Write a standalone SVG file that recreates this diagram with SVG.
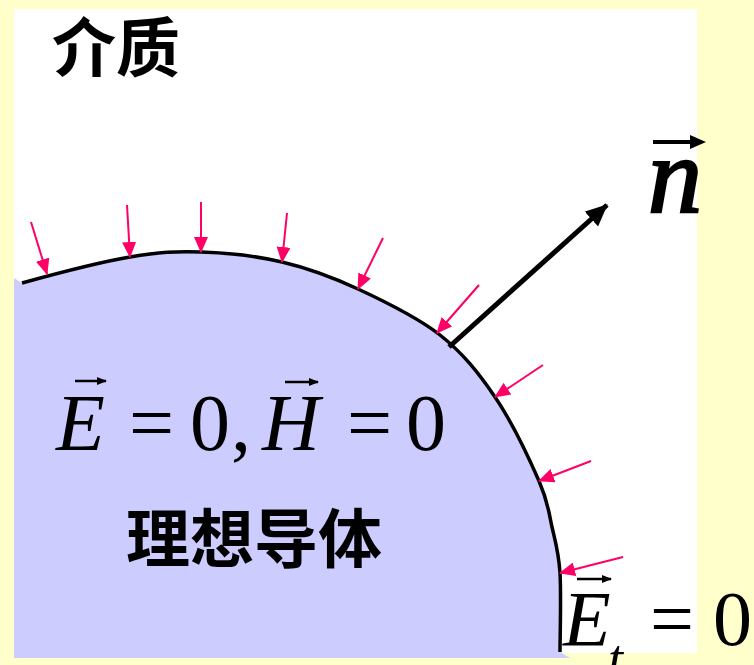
<svg xmlns="http://www.w3.org/2000/svg" width="754" height="665" viewBox="0 0 754 665">
<style>
.cjk{font-family:"Noto Sans CJK SC","Noto Sans",sans-serif;font-weight:bold;font-size:64px;fill:#000}
.m{font-family:"Liberation Serif","Times New Roman",serif;font-size:80px;fill:#000}
.i{font-style:italic}
.pk{stroke:#FF0066;stroke-width:2;fill:none;marker-end:url(#pinkhead)}
.vec{stroke:#000;stroke-width:2.5;fill:none}
</style>
<defs>
<marker id="pinkhead" viewBox="0 0 16 14" markerWidth="16" markerHeight="14" refX="15" refY="7" orient="auto" markerUnits="userSpaceOnUse">
<path d="M0,0 L16,7 L0,14 Z" fill="#FF0066"/>
</marker>
<marker id="blackhead" viewBox="0 0 22 20" markerWidth="22" markerHeight="20" refX="21" refY="10" orient="auto" markerUnits="userSpaceOnUse">
<path d="M0,0 L22,10 L0,20 Z" fill="#000"/>
</marker>
<marker id="vechead" viewBox="0 0 10 8" markerWidth="10" markerHeight="8" refX="9" refY="4" orient="auto" markerUnits="userSpaceOnUse">
<path d="M0,0 L10,4 L0,8 Z" fill="#000"/>
</marker>
</defs>
<rect x="0" y="0" width="754" height="665" fill="#FFFFCC"/>
<rect x="14" y="9" width="683" height="644" fill="#FFFFFF"/>
<g id="conductor">
<path d="M14,278 L22,283 C40.8,277.8 100.3,262 130,257 C159.7,252 175.7,251.2 201,252 C226.3,252.8 255.8,255.8 282,262 C308.2,268.2 331.7,276.8 358,289 C384.3,301.2 417.2,317 440,335 C462.8,353 478.5,372.7 495,397 C511.5,421.3 529.5,459.3 539,481 C548.5,502.7 548.5,511.7 552,527 C555.5,542.3 558.7,552.2 560,573 C561.3,593.8 560,638.8 560,652 L570,658 L14,658 Z" fill="#CCCCFF"/>
<path d="M22,283 C40.8,277.8 100.3,262 130,257 C159.7,252 175.7,251.2 201,252 C226.3,252.8 255.8,255.8 282,262 C308.2,268.2 331.7,276.8 358,289 C384.3,301.2 417.2,317 440,335 C462.8,353 478.5,372.7 495,397 C511.5,421.3 529.5,459.3 539,481 C548.5,502.7 548.5,511.7 552,527 C555.5,542.3 558.7,552.2 560,573 C561.3,593.8 560,638.8 560,652" fill="none" stroke="#000" stroke-width="3.5"/>
</g>
<g id="connectors">
<line class="pk" x1="31" y1="222" x2="47" y2="274"/>
<line class="pk" x1="127" y1="205" x2="130" y2="257"/>
<line class="pk" x1="201" y1="202" x2="201" y2="252"/>
<line class="pk" x1="287" y1="213" x2="282" y2="262"/>
<line class="pk" x1="383" y1="238" x2="358" y2="289"/>
<line class="pk" x1="479" y1="285" x2="437" y2="333"/>
<line class="pk" x1="543" y1="365" x2="495" y2="397"/>
<line class="pk" x1="591" y1="461" x2="539" y2="481"/>
<line class="pk" x1="623" y1="557" x2="560" y2="573"/>
<line x1="449" y1="347" x2="607" y2="205" stroke="#000" stroke-width="5" marker-end="url(#blackhead)"/>
</g>
<g id="label-medium">
<text class="cjk" x="52" y="71">介质</text>
</g>
<g id="label-conductor">
<text class="cjk" x="126" y="562">理想导体</text>
</g>
<g id="label-fields">
<text class="m i" x="56" y="450">E</text>
<line class="vec" x1="75" y1="381" x2="106" y2="381" marker-end="url(#vechead)"/>
<text class="m" x="129" y="450">=</text>
<text class="m" x="190" y="450">0</text>
<text class="m" x="231" y="450">,</text>
<text class="m i" x="262" y="450">H</text>
<line class="vec" x1="285" y1="382" x2="318" y2="382" marker-end="url(#vechead)"/>
<text class="m" x="347" y="450">=</text>
<text class="m" x="406" y="450">0</text>
</g>
<g id="label-normal">
<text class="m i" x="648" y="212" style="font-size:108px;stroke:#000;stroke-width:2.5">n</text>
<line x1="653" y1="142" x2="692" y2="142" stroke="#000" stroke-width="4"/>
<path d="M706,142 L690,135 L690,149 Z" fill="#000"/>
</g>
<g id="label-tangential">
<text class="m i" x="563" y="645" style="font-size:78px">E</text>
<line class="vec" x1="577" y1="579" x2="611" y2="579" marker-end="url(#vechead)"/>
<text class="m i" x="608" y="677" style="font-size:54px">t</text>
<text class="m" x="650" y="645" style="font-size:78px">=</text>
<text class="m" x="713" y="645" style="font-size:78px">0</text>
</g>
</svg>
